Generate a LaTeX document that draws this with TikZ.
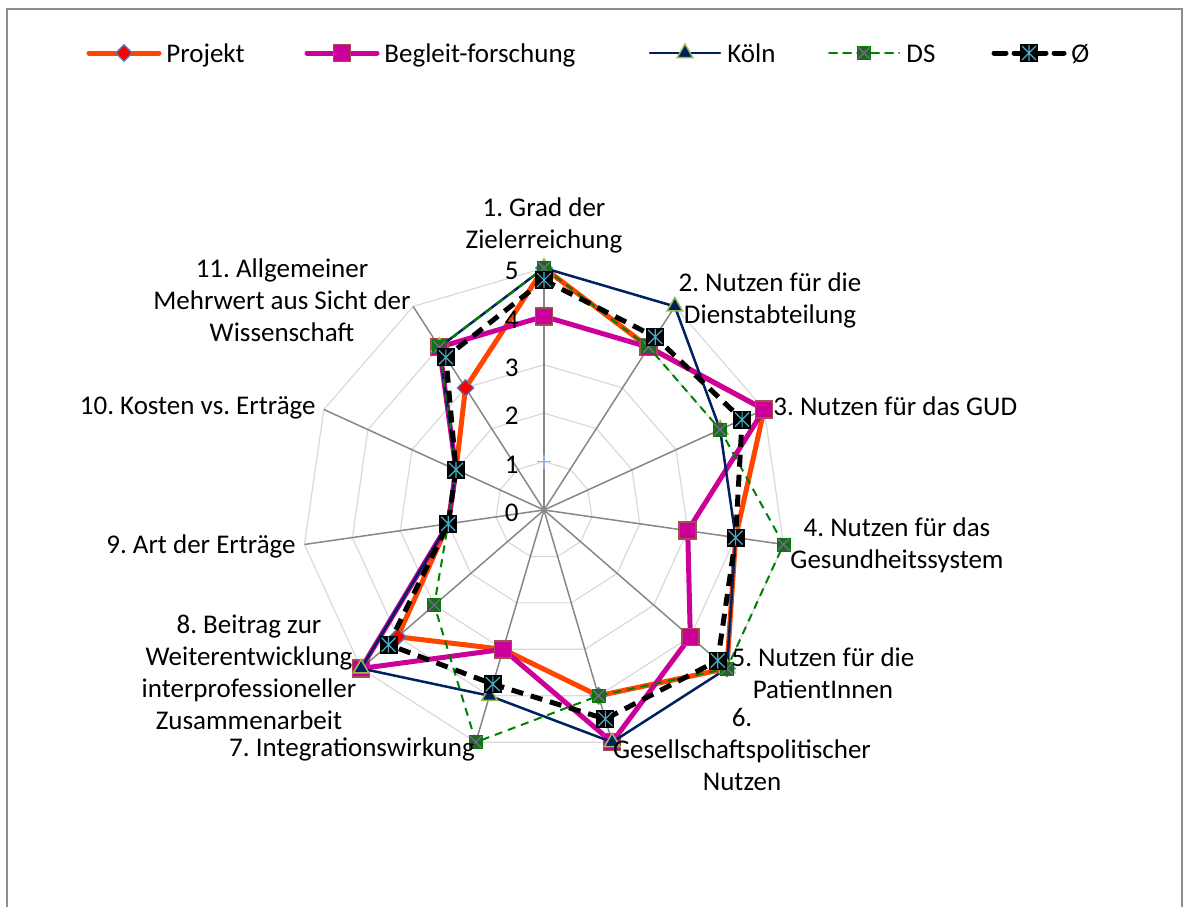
\documentclass[tikz,border=0pt]{standalone}
\usepackage{fontspec}
\setmainfont{Carlito}
\usetikzlibrary{calc,shapes.geometric}
\frenchspacing

\definecolor{framegray}{HTML}{8E8E8E}
\definecolor{spokegray}{HTML}{878787}
\definecolor{gridgray}{HTML}{D9D9D9}
\definecolor{projektorange}{HTML}{FF4500}
\definecolor{projektred}{HTML}{FF0000}
\definecolor{projektedge}{HTML}{4F81BD}
\definecolor{begleitpink}{HTML}{CC0099}
\definecolor{begleitedge}{HTML}{A0504D}
\definecolor{koelnblue}{HTML}{002060}
\definecolor{koelnedge}{HTML}{9BBB59}
\definecolor{dsgreen}{HTML}{008000}
\definecolor{dsfill}{HTML}{1E6B1E}
\definecolor{dscross}{HTML}{8064A2}
\definecolor{avgcross}{HTML}{4BACC6}
\definecolor{plusblue}{HTML}{95B3D7}

\tikzset{
  axislabel/.style={align=center, inner sep=0pt},
  ticklabel/.style={anchor=east, inner sep=0pt},
  spoke/.style={draw=spokegray, line width=0.75pt},
  gridring/.style={draw=gridgray, line width=0.6pt},
  projektline/.style={draw=projektorange, line width=2.5pt, line join=round},
  begleitline/.style={draw=begleitpink, line width=2.5pt, line join=round},
  koelnline/.style={draw=koelnblue, line width=1.25pt, line join=round},
  dsline/.style={draw=dsgreen, line width=1pt, dash pattern=on 4pt off 3pt},
  avgline/.style={draw=black, line width=2.5pt, dash pattern=on 6pt off 4pt},
  projektmark/.style={diamond, fill=projektred, draw=projektedge, line width=0.6pt,
    minimum size=8.5pt, inner sep=0pt},
  begleitmark/.style={rectangle, fill=begleitpink, draw=begleitedge, line width=0.75pt,
    minimum size=8.5pt, inner sep=0pt},
  koelnmark/.style={regular polygon, regular polygon sides=3, fill=koelnblue, draw=koelnedge,
    line width=0.75pt, minimum size=9pt, inner sep=0pt},
  dsmark/.style={rectangle, fill=dsfill, draw=dsgreen, line width=0.4pt, minimum size=6.5pt, inner sep=0pt,
    path picture={\draw[dscross, line width=0.6pt]
      (path picture bounding box.north west) -- (path picture bounding box.south east)
      (path picture bounding box.south west) -- (path picture bounding box.north east);}},
  avgmark/.style={rectangle, fill=black, minimum size=9pt, inner sep=0pt,
    path picture={\draw[avgcross, line width=0.6pt]
      ([shift={(1pt,-1pt)}]path picture bounding box.north west) -- ([shift={(-1pt,1pt)}]path picture bounding box.south east)
      ([shift={(1pt,1pt)}]path picture bounding box.south west) -- ([shift={(-1pt,-1pt)}]path picture bounding box.north east)
      ([yshift=-0.5pt]path picture bounding box.north) -- ([yshift=0.5pt]path picture bounding box.south);}},
  plusmark/.style={minimum size=7pt, inner sep=0pt,
    path picture={\draw[plusblue, line width=0.6pt]
      (path picture bounding box.west) -- (path picture bounding box.east)
      (path picture bounding box.north) -- (path picture bounding box.south);}},
}

\begin{document}
\begin{tikzpicture}[x=0.5pt, y=0.5pt, font=\fontsize{13.5}{16}\selectfont]
  \useasboundingbox (0,0) rectangle (1189,-907);
  % Frame
  \draw[framegray, line width=1pt] (7,-907) |- (1182,-9) -- (1182,-907);

  \coordinate (ctr) at (544,-510);

  % Grid rings and axes
  \foreach \v in {1,...,5}
    \draw[gridring] ($(ctr)+(90:{\v*48.4})$)
      \foreach \k in {1,...,10}{ -- ($(ctr)+({90-\k*360/11}:{\v*48.4})$)} -- cycle;
  \foreach \k in {1,...,11}{
    \coordinate (ax\k) at ($(ctr)+({90-(\k-1)*360/11}:242)$);
    \draw[spoke] (ctr) -- (ax\k);
  }
  \node[plusmark] (plus1) at ($(ctr)+(0,48.4)$) {};

  % Projekt
  \foreach \v [count=\k] in {5,4,5,4,5,4,3,4,2,2,3}
    \coordinate (proj\k) at ($(ctr)+({90-(\k-1)*360/11}:{\v*48.4})$);
  \draw[projektline] (proj1) \foreach \k in {2,...,11}{ -- (proj\k)} -- cycle;
  \foreach \k in {1,...,11} \node[projektmark] (projm\k) at (proj\k) {};

  % Begleitforschung
  \foreach \v [count=\k] in {4,4,5,3,4,5,3,5,2,2,4}
    \coordinate (begl\k) at ($(ctr)+({90-(\k-1)*360/11}:{\v*48.4})$);
  \draw[begleitline] (begl1) \foreach \k in {2,...,11}{ -- (begl\k)} -- cycle;
  \foreach \k in {1,...,11} \node[begleitmark] (beglm\k) at (begl\k) {};

  % Koeln
  \foreach \v [count=\k] in {5,5,4,4,5,5,4,5,2,2,4}
    \coordinate (koeln\k) at ($(ctr)+({90-(\k-1)*360/11}:{\v*48.4})$);
  \draw[koelnline] (koeln1) \foreach \k in {2,...,11}{ -- (koeln\k)} -- cycle;
  \foreach \k in {1,...,11} \node[koelnmark] (koelnm\k) at (koeln\k) {};

  % DS
  \foreach \v [count=\k] in {5,4,4,5,5,4,5,3,2,2,4}
    \coordinate (ds\k) at ($(ctr)+({90-(\k-1)*360/11}:{\v*48.4})$);
  \draw[dsline] (ds1) \foreach \k in {2,...,11}{ -- (ds\k)} -- cycle;
  \foreach \k in {1,...,11} \node[dsmark] (dsm\k) at (ds\k) {};

  % Average
  \foreach \v [count=\k] in {4.75,4.25,4.5,4,4.75,4.5,3.75,4.25,2,2,3.75}
    \coordinate (avg\k) at ($(ctr)+({90-(\k-1)*360/11}:{\v*48.4})$);
  \draw[avgline] (avg1) \foreach \k in {2,...,11}{ -- (avg\k)} -- cycle;
  \foreach \k in {1,...,11} \node[avgmark] (avgm\k) at (avg\k) {};

  % Scale
  \foreach \v in {0,...,5}
    \node[ticklabel] (tick\v) at ($(ctr)+(-25,{\v*48.4-3})$) {\v};

  % Axis labels
  \node[axislabel] (lab1) at (544,-225) {1. Grad der\\Zielerreichung};
  \node[axislabel] (lab2) at (770,-300) {2. Nutzen für die\\Dienstabteilung};
  \node[axislabel, anchor=west] (lab3) at (773,-406) {3. Nutzen für das GUD};
  \node[axislabel] (lab4) at (897,-545) {4. Nutzen für das\\Gesundheitssystem};
  \node[axislabel] (lab5) at (823,-673) {5. Nutzen für die\\PatientInnen};
  \node[axislabel] (lab6) at (742,-749) {6.\\Gesellschaftspolitischer\\Nutzen};
  \node[axislabel] (lab7) at (352,-749) {7. Integrationswirkung};
  \node[axislabel] (lab8) at (249,-672) {8. Beitrag zur\\Weiterentwicklung\\interprofessioneller\\Zusammenarbeit};
  \node[axislabel, anchor=east] (lab9) at (296,-546) {9. Art der Erträge};
  \node[axislabel, anchor=east] (lab10) at (316,-408) {10. Kosten vs. Erträge};
  \node[axislabel] (lab11) at (282,-300) {11. Allgemeiner\\Mehrwert aus Sicht der\\Wissenschaft};

  % Legend
  \foreach \x/\nm/\ln/\mk/\txt in {124/proj/projektline/projektmark/Projekt,
      342/begl/begleitline/begleitmark/Begleit-forschung,
      685/koeln/koelnline/koelnmark/Köln,
      864/ds/dsline/dsmark/DS,
      1029/avg/avgline/avgmark/Ø}{
    \coordinate (lg\nm-a) at (\x-35,-53);
    \coordinate (lg\nm-b) at (\x+35,-53);
    \draw[\ln, line cap=round] (lg\nm-a) -- (lg\nm-b);
    \node[\mk] (lg\nm-m) at (\x,-53) {};
    \node[anchor=base west, inner sep=0pt] (lg\nm-t) at (\x+42,-62) {\txt};
  }
\end{tikzpicture}
\end{document}
